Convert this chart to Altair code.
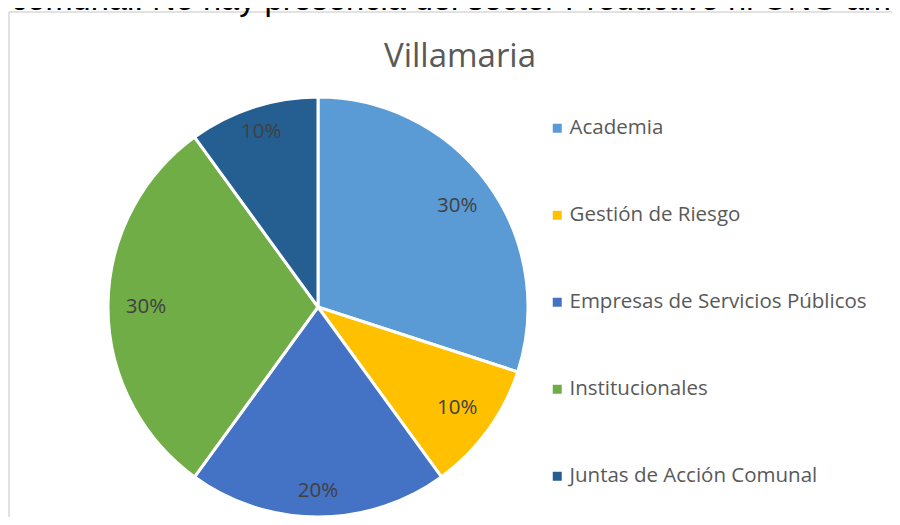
import altair as alt
import pandas as pd

# ---- data ----
categories = [
    "Academia",
    "Gestión de Riesgo",
    "Empresas de Servicios Públicos",
    "Institucionales",
    "Juntas de Acción Comunal",
]
values = [30, 10, 20, 30, 10]
colors = ["#5B9BD5", "#FFC000", "#4472C4", "#70AD47", "#255E91"]
chart_title = "Villamaria"
top_text = "comunal.  No hay presencia del sector Productivo ni ONG amb"

df = pd.DataFrame({
    "categoria": categories,
    "valor": values,
    "idx": list(range(len(categories))),
    "etiqueta": [f"{v}%" for v in values],
})

CX, CY = 310, 299  # pie centre inside the view
outer_labels = ["Empresas de Servicios Públicos", "Juntas de Acción Comunal"]

one = pd.DataFrame({"a": [0]})
frame_top = alt.Chart(one).mark_rule(color="#d9d9d9", strokeWidth=1.5).encode(
    x=alt.value(1), x2=alt.value(884), y=alt.value(4)
)
frame_left = alt.Chart(one).mark_rule(color="#d9d9d9", strokeWidth=1.5).encode(
    x=alt.value(1), y=alt.value(4), y2=alt.value(509)
)

top = alt.Chart(pd.DataFrame({"t": [top_text]})).mark_text(
    font="Liberation Sans", fontSize=32.6, color="#000000", align="left", baseline="alphabetic"
).encode(text="t:N", x=alt.value(3), y=alt.value(1.5))

title = alt.Chart(pd.DataFrame({"t": [chart_title]})).mark_text(
    font="Open Sans", fontSize=33, color="#595959", align="center", baseline="middle"
).encode(text="t:N", x=alt.value(452), y=alt.value(49))

base = alt.Chart(df)

arcs = base.mark_arc(radius=210, stroke="white", strokeWidth=3).encode(
    theta=alt.Theta("valor:Q", stack=True),
    order=alt.Order("idx:Q"),
    color=alt.Color(
        "categoria:N",
        scale=alt.Scale(domain=categories, range=colors),
        sort=categories,
        legend=alt.Legend(
            orient="none", legendX=539, legendY=110, title=None,
            symbolType="square", symbolSize=81, symbolStrokeWidth=0,
            labelFontSize=20.5, labelFont="Open Sans", labelColor="#595959",
            rowPadding=66, labelOffset=2, labelLimit=400,
        ),
    ),
    x=alt.value(CX), y=alt.value(CY),
)

stacked = base.transform_stack(
    stack="valor", groupby=[], as_=["s0", "s1"], sort=[alt.SortField("idx")]
).transform_calculate(mid="(datum.s0 + datum.s1) / 2")

outer_test = alt.FieldOneOfPredicate(field="categoria", oneOf=outer_labels)


def label_layer(pred, r):
    return stacked.transform_filter(pred).mark_text(
        radius=r, font="Open Sans", fontSize=20.5, color="#404040"
    ).encode(
        theta=alt.Theta("mid:Q", scale=alt.Scale(domain=[0, sum(values)])),
        text="etiqueta:N",
        x=alt.value(CX), y=alt.value(CY),
    )


labels_in = label_layer(alt.LogicalNotPredicate(**{"not": outer_test}), 172)
labels_out = label_layer(outer_test, 184)

chart = alt.layer(frame_top, frame_left, top, title, arcs, labels_in, labels_out).resolve_scale(
    theta="independent"
).properties(
    width=884, height=509, autosize=alt.AutoSizeParams(type="none"), padding=0
).configure_view(stroke=None)

chart.save("out.html", embed_options={"renderer": "svg", "actions": False})
